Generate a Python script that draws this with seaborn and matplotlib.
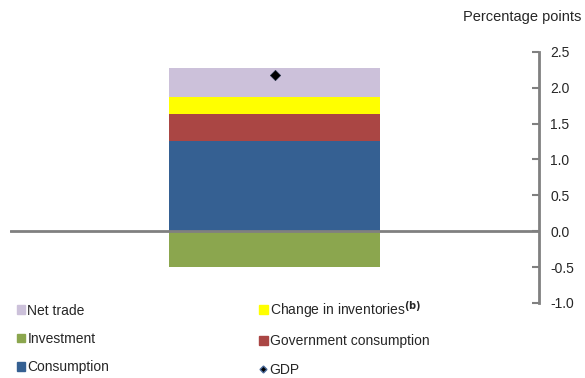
import matplotlib
matplotlib.use("Agg")
import matplotlib.pyplot as plt
import seaborn as sns
import pandas as pd
from matplotlib.patches import Patch
from matplotlib.lines import Line2D

sns.set_style("white")
plt.rcParams['font.family'] = ['Liberation Sans', 'DejaVu Sans']

category = ["2012"]
consumption = [1.25]
government = [0.38]
inventories = [0.24]
net_trade = [0.40]
investment = [-0.50]
gdp = [2.17]

yticks = [-1.0, -0.5, 0.0, 0.5, 1.0, 1.5, 2.0, 2.5]

df = pd.DataFrame({"cat": category, "Consumption": consumption,
                   "Government consumption": government,
                   "Change in inventories": inventories,
                   "Net trade": net_trade, "Investment": investment, "GDP": gdp})

colors = {"Consumption": "#356092", "Government consumption": "#AA4644",
          "Change in inventories": "#FFFF00", "Net trade": "#CCC1DA",
          "Investment": "#8BA64E"}

fig = plt.figure(figsize=(5.85, 3.78), dpi=100)
ax = fig.add_axes([10/585, 1 - 303/378, 529/585, (303 - 51.7)/378])

bottom = pd.Series([0.0] * len(df))
for comp in ["Consumption", "Government consumption", "Change in inventories", "Net trade"]:
    sns.barplot(data=df, x="cat", y=comp, color=colors[comp], width=0.4,
                bottom=bottom.values, errorbar=None, ax=ax, saturation=1, linewidth=0)
    bottom = bottom + df[comp]
sns.barplot(data=df, x="cat", y="Investment", color=colors["Investment"], width=0.4,
            errorbar=None, ax=ax, saturation=1, linewidth=0)
sns.scatterplot(data=df, x="cat", y="GDP", marker="D", s=28, color="black",
                edgecolor="#1a2a40", ax=ax, zorder=5)

ax.axhline(0, color="#808080", lw=2, zorder=4)
ax.set_xlim(-0.5, 0.5)
ax.set_ylim(-1.0, 2.5)
ax.set_xticks([])
ax.set_xlabel("")
ax.set_ylabel("")
ax.yaxis.tick_right()
ax.set_yticks(yticks)
ax.set_yticklabels([f"{v:.1f}" for v in yticks], fontsize=10)
ax.tick_params(axis="y", direction="in", length=5, width=1.5, color="#808080", pad=8)
for s in ["left", "top", "bottom"]:
    ax.spines[s].set_visible(False)
ax.spines["right"].set_color("#808080")
ax.spines["right"].set_linewidth(2)
ax.patch.set_alpha(0)

fig.text(581/585, 1 - 17/378, "Percentage points", ha="right", va="center", fontsize=10.5)

handles = [Patch(color=colors["Net trade"]),
           Patch(color=colors["Investment"]),
           Patch(color=colors["Consumption"]),
           Patch(color=colors["Change in inventories"]),
           Patch(color=colors["Government consumption"]),
           Line2D([], [], marker="D", color="black", linestyle="none", markersize=3.5,
                  markeredgecolor="#4a6a9a")]
labels = ["Net trade", "Investment", "Consumption",
          r"Change in inventories$^{\mathbf{(b)}}$", "Government consumption", "GDP"]
fig.legend(handles, labels, ncol=2, loc="upper left", bbox_to_anchor=(17/585, 1 - 299/378),
           frameon=False, fontsize=10, handlelength=0.6, handleheight=0.6,
           handletextpad=0.15, columnspacing=10.8, labelspacing=1.03, borderpad=0,
           borderaxespad=0)

fig.savefig("out.png", dpi=100)
